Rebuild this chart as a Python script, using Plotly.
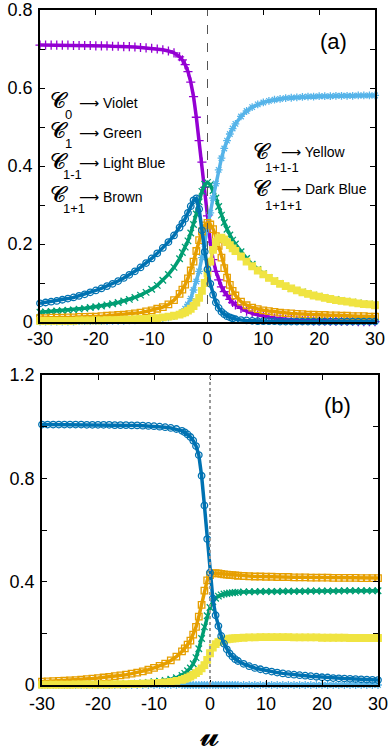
import plotly.graph_objects as go

# ---------------- data ----------------
U = [-30, -29, -28, -27, -26, -25, -24, -23, -22, -21, -20, -19, -18, -17, -16, -15,
     -14, -13, -12, -11, -10, -9, -8, -7, -6, -5,
     -4.5, -4, -3.5, -3, -2.5, -2, -1.5, -1, -0.5, 0, 0.5, 1, 1.5, 2, 2.5, 3, 3.5, 4, 4.5,
     5, 6, 7, 8, 9, 10, 11, 12, 13, 14, 15, 16, 17, 18, 19, 20, 21, 22, 23, 24, 25, 26,
     27, 28, 29, 30]

# panel (a)
A_C0 = [0.710, 0.710, 0.710, 0.710, 0.710, 0.710, 0.709, 0.709, 0.709, 0.709, 0.708, 0.708, 0.708,
        0.707, 0.707, 0.706, 0.706, 0.705, 0.704, 0.703, 0.702, 0.700, 0.698, 0.695, 0.690, 0.680,
        0.672, 0.660, 0.642, 0.615, 0.578, 0.525, 0.465, 0.410, 0.345, 0.272, 0.205, 0.160, 0.130,
        0.108, 0.090, 0.078, 0.068, 0.058, 0.050,
        0.044, 0.035, 0.028, 0.022, 0.018, 0.015, 0.012, 0.010, 0.008, 0.007, 0.006, 0.005, 0.004,
        0.004, 0.003, 0.003, 0.003, 0.002, 0.002, 0.002, 0.002, 0.002, 0.001, 0.001, 0.001, 0.001]
A_C1 = [0.025, 0.026, 0.027, 0.028, 0.029, 0.030, 0.031, 0.033, 0.035, 0.037, 0.039, 0.041, 0.044,
        0.047, 0.050, 0.054, 0.058, 0.063, 0.069, 0.076, 0.084, 0.094, 0.107, 0.122, 0.140, 0.162,
        0.178, 0.192, 0.208, 0.228, 0.250, 0.277, 0.308, 0.335, 0.353, 0.358, 0.352, 0.337, 0.318,
        0.296, 0.274, 0.255, 0.238, 0.223, 0.210,
        0.200, 0.180, 0.163, 0.148, 0.135, 0.124, 0.114, 0.106, 0.099, 0.092, 0.086, 0.081, 0.077,
        0.073, 0.069, 0.066, 0.063, 0.060, 0.058, 0.055, 0.053, 0.051, 0.049, 0.047, 0.046, 0.044]
A_C1M1 = [0.001, 0.001, 0.001, 0.001, 0.001, 0.001, 0.001, 0.002, 0.002, 0.002, 0.002, 0.002, 0.002,
          0.003, 0.003, 0.003, 0.004, 0.004, 0.005, 0.006, 0.007, 0.008, 0.010, 0.012, 0.015, 0.020,
          0.026, 0.034, 0.045, 0.060, 0.082, 0.104, 0.130, 0.165, 0.200, 0.240, 0.280, 0.318, 0.355,
          0.390, 0.420, 0.445, 0.465, 0.482, 0.496,
          0.508, 0.527, 0.541, 0.551, 0.558, 0.563, 0.567, 0.570, 0.572, 0.574, 0.575, 0.576, 0.577,
          0.578, 0.578, 0.579, 0.579, 0.579, 0.580, 0.580, 0.580, 0.580, 0.581, 0.581, 0.581, 0.581]
A_C1P1 = [0.010, 0.010, 0.011, 0.011, 0.011, 0.012, 0.012, 0.013, 0.013, 0.014, 0.014, 0.015, 0.016,
          0.017, 0.018, 0.019, 0.020, 0.022, 0.024, 0.027, 0.030, 0.034, 0.038, 0.045, 0.056, 0.072,
          0.083, 0.096, 0.112, 0.132, 0.155, 0.182, 0.210, 0.232, 0.248, 0.254, 0.250, 0.238, 0.220,
          0.195, 0.165, 0.138, 0.114, 0.095, 0.080,
          0.068, 0.052, 0.043, 0.037, 0.033, 0.030, 0.028, 0.026, 0.024, 0.023, 0.022, 0.021, 0.020,
          0.019, 0.019, 0.018, 0.018, 0.017, 0.017, 0.016, 0.016, 0.015, 0.015, 0.015, 0.014, 0.014]
A_C1P1M1 = [0.003, 0.003, 0.003, 0.003, 0.003, 0.003, 0.003, 0.004, 0.004, 0.004, 0.004, 0.004, 0.005,
            0.005, 0.005, 0.006, 0.006, 0.007, 0.008, 0.008, 0.009, 0.010, 0.012, 0.014, 0.016, 0.019,
            0.022, 0.025, 0.029, 0.034, 0.041, 0.050, 0.062, 0.080, 0.100, 0.125, 0.155, 0.185, 0.205,
            0.215, 0.216, 0.212, 0.205, 0.197, 0.189,
            0.182, 0.168, 0.155, 0.143, 0.132, 0.122, 0.113, 0.105, 0.098, 0.092, 0.086, 0.081, 0.076,
            0.072, 0.068, 0.065, 0.062, 0.059, 0.056, 0.054, 0.052, 0.050, 0.048, 0.046, 0.045, 0.043]
A_C1P1P1 = [0.048, 0.050, 0.052, 0.054, 0.057, 0.060, 0.063, 0.067, 0.071, 0.076, 0.081, 0.086, 0.092,
            0.098, 0.105, 0.113, 0.121, 0.130, 0.140, 0.151, 0.163, 0.176, 0.190, 0.205, 0.222, 0.242,
            0.253, 0.265, 0.280, 0.297, 0.312, 0.317, 0.290, 0.235, 0.180, 0.135, 0.098, 0.070, 0.050,
            0.036, 0.026, 0.020, 0.015, 0.012, 0.009,
            0.007, 0.005, 0.004, 0.003, 0.002, 0.002, 0.002, 0.002, 0.001, 0.001, 0.001, 0.001, 0.001,
            0.001, 0.001, 0.001, 0.001, 0.001, 0.001, 0.001, 0.001, 0.001, 0.001, 0.001, 0.001, 0.001]

# panel (b)
B_C1 = [0.002, 0.002, 0.002, 0.002, 0.002, 0.002, 0.003, 0.003, 0.003, 0.003, 0.003, 0.004, 0.004,
        0.004, 0.005, 0.005, 0.006, 0.007, 0.008, 0.010, 0.013, 0.015, 0.018, 0.022, 0.028, 0.037,
        0.045, 0.055, 0.066, 0.082, 0.106, 0.140, 0.180, 0.225, 0.268, 0.300, 0.322, 0.336, 0.344,
        0.349, 0.352, 0.354, 0.356, 0.357, 0.358,
        0.359, 0.360, 0.361, 0.361, 0.362, 0.362, 0.362, 0.362, 0.363, 0.363, 0.363, 0.363, 0.363,
        0.364, 0.364, 0.364, 0.364, 0.364, 0.364, 0.365, 0.365, 0.365, 0.365, 0.365, 0.365, 0.365]
B_C1M1 = [0.0, 0.0, 0.0, 0.0, 0.0, 0.0, 0.0, 0.0, 0.0, 0.0, 0.0, 0.0, 0.0,
          0.0, 0.0, 0.0, 0.0, 0.0, 0.0, 0.0, 0.0, 0.0, 0.0, 0.0, 0.0, 0.0,
          0.0, 0.0, 0.0, 0.0, 0.0, 0.0, 0.0, 0.0, 0.0, 0.0, 0.0, 0.0, 0.0,
          0.0, 0.0, 0.0, 0.0, 0.0, 0.0,
          0.0, 0.0, 0.0, 0.0, 0.0, 0.0, 0.0, 0.0, 0.0, 0.0, 0.0, 0.0, 0.0,
          0.0, 0.0, 0.0, 0.0, 0.0, 0.0, 0.0, 0.0, 0.0, 0.0, 0.0, 0.0, 0.0]
B_C1P1 = [0.013, 0.014, 0.015, 0.016, 0.017, 0.018, 0.019, 0.021, 0.023, 0.025, 0.027, 0.029, 0.031,
          0.034, 0.037, 0.040, 0.044, 0.048, 0.053, 0.059, 0.066, 0.074, 0.083, 0.095, 0.110, 0.130,
          0.142, 0.156, 0.172, 0.195, 0.225, 0.265, 0.310, 0.365, 0.405, 0.425, 0.432, 0.433, 0.432,
          0.430, 0.428, 0.427, 0.426, 0.425, 0.424,
          0.423, 0.422, 0.421, 0.420, 0.420, 0.419, 0.419, 0.418, 0.418, 0.418, 0.417, 0.417, 0.417,
          0.416, 0.416, 0.416, 0.416, 0.415, 0.415, 0.415, 0.415, 0.415, 0.414, 0.414, 0.414, 0.414]
B_C1P1M1 = [0.001, 0.001, 0.001, 0.001, 0.001, 0.001, 0.002, 0.002, 0.002, 0.002, 0.002, 0.002, 0.002,
            0.003, 0.003, 0.003, 0.004, 0.004, 0.005, 0.006, 0.007, 0.008, 0.010, 0.012, 0.016, 0.020,
            0.024, 0.028, 0.033, 0.039, 0.046, 0.054, 0.064, 0.077, 0.097, 0.123, 0.145, 0.158, 0.166,
            0.171, 0.174, 0.177, 0.179, 0.180, 0.181,
            0.182, 0.183, 0.184, 0.184, 0.185, 0.185, 0.185, 0.185, 0.185, 0.185, 0.184, 0.184, 0.184,
            0.184, 0.184, 0.183, 0.183, 0.183, 0.183, 0.183, 0.182, 0.182, 0.182, 0.182, 0.182, 0.182]
B_C1P1P1 = [1.008, 1.008, 1.008, 1.008, 1.008, 1.008, 1.008, 1.008, 1.007, 1.007, 1.007, 1.007, 1.007,
            1.006, 1.006, 1.006, 1.005, 1.005, 1.004, 1.003, 1.002, 1.000, 0.998, 0.995, 0.991, 0.984,
            0.978, 0.970, 0.960, 0.946, 0.925, 0.890, 0.810, 0.695, 0.565, 0.435, 0.335, 0.270, 0.228,
            0.190, 0.160, 0.138, 0.122, 0.110, 0.100,
            0.093, 0.082, 0.073, 0.066, 0.061, 0.056, 0.052, 0.048, 0.045, 0.042, 0.040, 0.038, 0.036,
            0.034, 0.032, 0.030, 0.029, 0.027, 0.026, 0.025, 0.024, 0.023, 0.022, 0.021, 0.020, 0.019]

X_TICKS = [-30, -20, -10, 0, 10, 20, 30]
X_TICKTEXT = ["-30", "-20", "-10", "0", "10", "20", "30"]
YA_TICKS = [0, 0.2, 0.4, 0.6, 0.8]
YA_TICKTEXT = ["0", "0.2", "0.4", "0.6", "0.8"]
YA_MINOR = [0.1, 0.3, 0.5, 0.7]
YB_TICKS = [0, 0.4, 0.8, 1.2]
YB_TICKTEXT = ["0", "0.4", "0.8", "1.2"]
YB_MINOR = [0.2, 0.6, 1.0]

for arr in [A_C0, A_C1, A_C1M1, A_C1P1, A_C1P1M1, A_C1P1P1, B_C1, B_C1M1, B_C1P1, B_C1P1M1, B_C1P1P1]:
    assert len(arr) == len(U), len(arr)

VIOLET, GREEN, LBLUE = "#9400d3", "#009e73", "#56b4e9"
ORANGE, YELLOW, DBLUE = "#e69f00", "#f0e442", "#0072b2"

W, H = 392, 752
fig = go.Figure()

def add(y, color, symbol, xa, ya):
    fig.add_trace(go.Scatter(
        x=U, y=y, xaxis=xa, yaxis=ya, mode="lines+markers",
        line=dict(color=color, width=3.5),
        marker=dict(symbol=symbol, size=6.5, color=color,
                    line=dict(color=color, width=1.3)),
        cliponaxis=False, hoverinfo="skip"))

add(A_C0, VIOLET, "cross-thin-open", "x", "y")
add(A_C1, GREEN, "x-thin-open", "x", "y")
add(A_C1M1, LBLUE, "asterisk-open", "x", "y")
add(A_C1P1, ORANGE, "square-open", "x", "y")
add(A_C1P1M1, YELLOW, "square", "x", "y")
add(A_C1P1P1, DBLUE, "circle-open", "x", "y")

add(B_C1, GREEN, "x-thin-open", "x2", "y2")
add(B_C1M1, LBLUE, "asterisk-open", "x2", "y2")
add(B_C1P1, ORANGE, "square-open", "x2", "y2")
add(B_C1P1M1, YELLOW, "square", "x2", "y2")
add(B_C1P1P1, DBLUE, "circle-open", "x2", "y2")

FONT = "Liberation Sans, Arial, sans-serif"
axis_common = dict(showline=True, linecolor="black", linewidth=1.5, mirror="allticks",
                   ticks="inside", ticklen=5, tickwidth=1, tickcolor="black",
                   showgrid=False, zeroline=False, automargin=False,
                   tickfont=dict(family=FONT, size=18, color="black"))

def px(xp, yp):
    return xp / W, 1 - yp / H

fig.update_layout(
    width=W, height=H, margin=dict(l=0, r=0, t=0, b=0),
    paper_bgcolor="white", plot_bgcolor="white", showlegend=False,
    xaxis=dict(domain=[40 / W, 375 / W], anchor="y", range=[-30, 30],
               tickvals=X_TICKS, ticktext=X_TICKTEXT, ticklabelstandoff=0, **axis_common),
    yaxis=dict(domain=[1 - 322 / H, 1 - 10 / H], anchor="x", range=[0, 0.8],
               tickvals=YA_TICKS, ticktext=YA_TICKTEXT, ticklabelstandoff=2,
               minor=dict(tickvals=YA_MINOR, ticks="inside", ticklen=5, tickcolor="black"),
               **axis_common),
    xaxis2=dict(domain=[42 / W, 378 / W], anchor="y2", range=[-30, 30],
                tickvals=X_TICKS, ticktext=X_TICKTEXT, ticklabelstandoff=2, **axis_common),
    yaxis2=dict(domain=[1 - 685 / H, 1 - 375 / H], anchor="x2", range=[0, 1.2],
                tickvals=YB_TICKS, ticktext=YB_TICKTEXT, ticklabelstandoff=2,
                minor=dict(tickvals=YB_MINOR, ticks="inside", ticklen=5, tickcolor="black"),
                **axis_common),
)

fig.add_shape(type="line", xref="x", yref="y domain", x0=0, x1=0, y0=0, y1=1,
              line=dict(color="#555555", width=1, dash="dash"), layer="above")
fig.add_shape(type="line", xref="x2", yref="y2 domain", x0=0, x1=0, y0=0, y1=1,
              line=dict(color="#999999", width=2, dash="dot"), layer="above")

def ann(text, xp, yp, size, xanchor="left", family=FONT):
    x, y = px(xp, yp)
    fig.add_annotation(text=text, x=x, y=y, xref="paper", yref="paper",
                       xanchor=xanchor, yanchor="middle", showarrow=False,
                       font=dict(family=family, size=size, color="black"))

SCRIPT = "DejaVu Serif, DejaVu Sans, serif"
CSYM = "𝓒"
legend_left = [("0", "⟶ Violet", 103), ("1", "⟶ Green", 133),
               ("1-1", "⟶ Light Blue", 163), ("1+1", "⟶ Brown", 197)]
for sub, txt, yc in legend_left:
    ann(CSYM, 48, yc - 2, 22, family=SCRIPT)
    ann(sub, 63 if len(sub) == 1 else 61, yc + 11, 13)
    ann(txt, 77, yc, 14, family="Liberation Sans, DejaVu Sans, sans-serif")

legend_right = [("1+1-1", "⟶ Yellow", 153), ("1+1+1", "⟶ Dark Blue", 190)]
for sub, txt, yc in legend_right:
    ann(CSYM, 251, yc - 2, 22, family=SCRIPT)
    ann(sub, 263, yc + 15, 13)
    ann(txt, 279, yc - 1, 14, family="Liberation Sans, DejaVu Sans, sans-serif")

ann("(a)", 333, 41, 22, xanchor="center")
ann("(b)", 337, 405, 22, xanchor="center")
ann("𝓾", 210, 734, 32, xanchor="center", family=SCRIPT)

fig.write_html("out.html", config={"displayModeBar": False},
               post_script="document.body.style.margin='0';document.body.style.overflow='hidden';")
